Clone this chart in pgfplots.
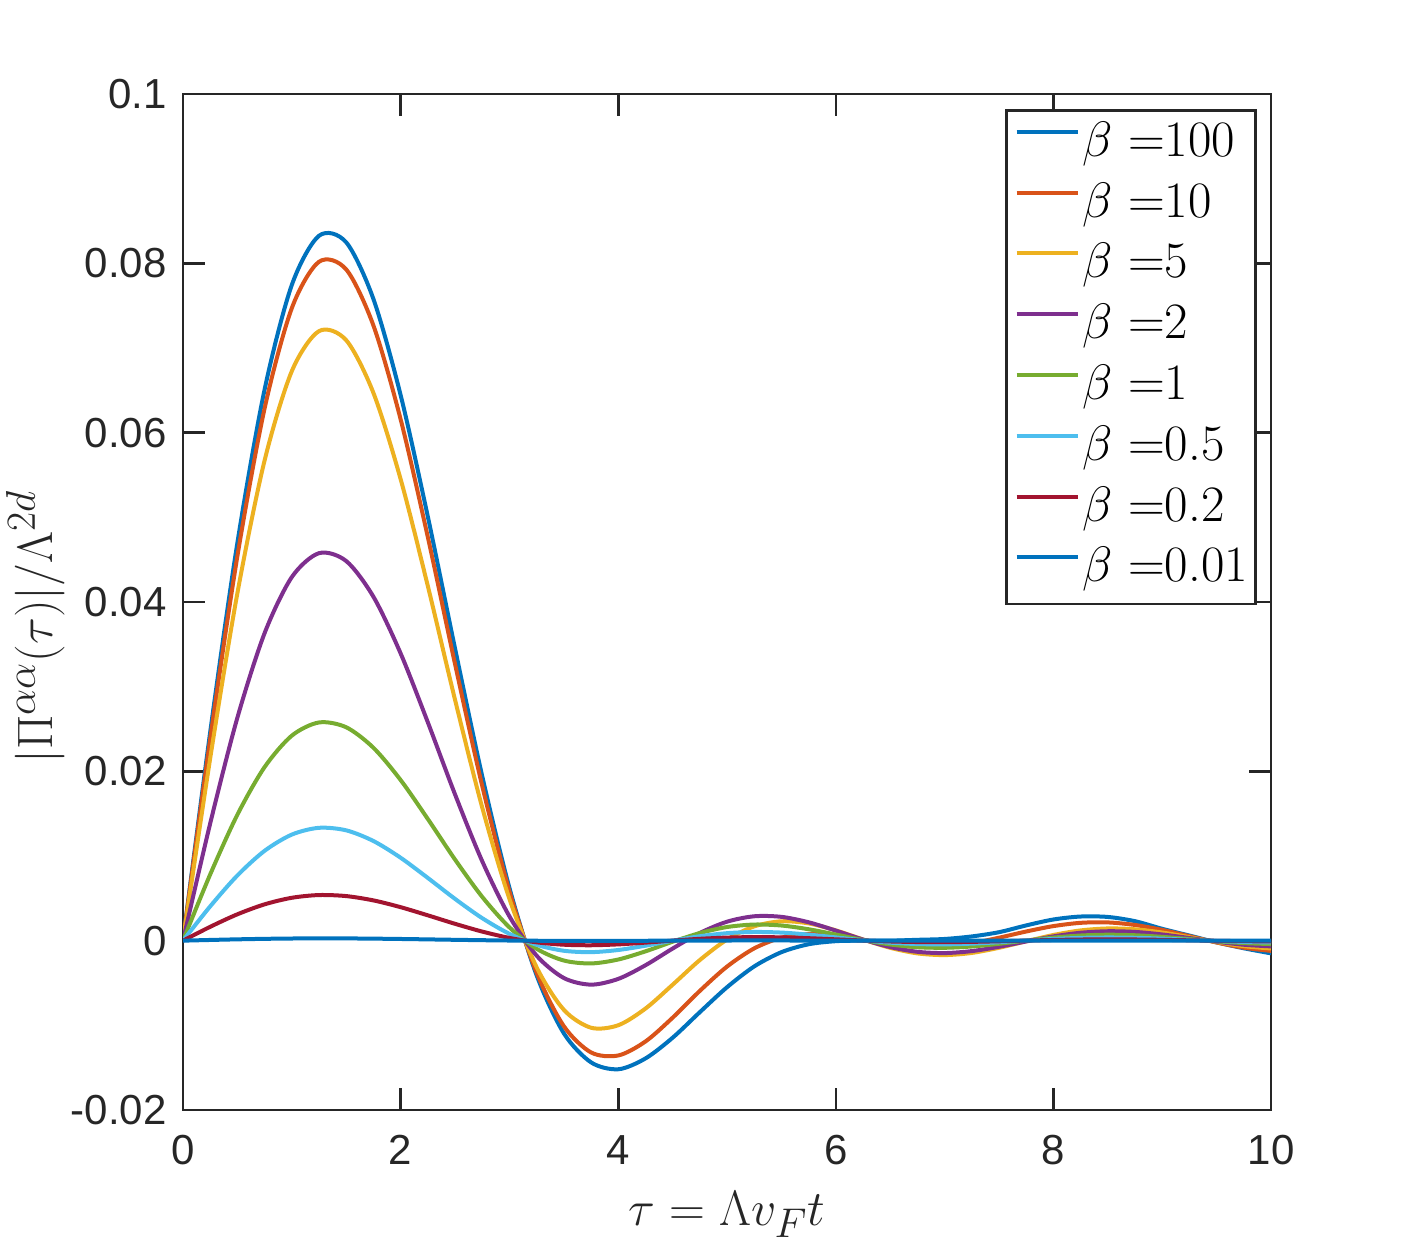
\documentclass[border=0pt]{standalone}
\usepackage{fontspec}
\usepackage{pgfplots}
\pgfplotsset{compat=1.18}
\usepackage{pgfplotstable}
\usetikzlibrary{calc}
\newfontfamily\arialfont{Liberation Sans}
\definecolor{c1}{rgb}{0,0.447,0.741}
\definecolor{c2}{rgb}{0.85,0.325,0.098}
\definecolor{c3}{rgb}{0.929,0.694,0.125}
\definecolor{c4}{rgb}{0.494,0.184,0.556}
\definecolor{c5}{rgb}{0.466,0.674,0.188}
\definecolor{c6}{rgb}{0.301,0.745,0.933}
\definecolor{c7}{rgb}{0.635,0.078,0.184}
\definecolor{axc}{rgb}{0.15,0.15,0.15}

\pgfplotstableread{
t     b100      b10       b5        b2        b1        b05        b02        b001
0     0         0         0         0         0         0          0          0
0.25  0.024637  0.023823  0.021544  0.013846  0.007823  0.004051   0.001637   0.000082
0.5   0.046999  0.045425  0.041045  0.026341  0.014880  0.007703   0.003114   0.000156
0.75  0.065093  0.062864  0.056719  0.036322  0.020503  0.010612   0.004290   0.000215
1     0.077442  0.074703  0.067261  0.042938  0.024212  0.012528   0.005064   0.000254
1.25  0.083251  0.080183  0.071990  0.045765  0.025771  0.013329   0.005387   0.000270
1.5   0.082477  0.079276  0.070916  0.044837  0.025203  0.013029   0.005264   0.000264
1.75  0.075790  0.072661  0.064698  0.040624  0.022783  0.011770   0.004755   0.000238
2     0.064450  0.061588  0.054519  0.033936  0.018977  0.009795   0.003956   0.000198
2.25  0.050098  0.047678  0.041897  0.025795  0.014372  0.007410   0.002992   0.000150
2.5   0.034529  0.032691  0.028464  0.017283  0.009585  0.004935   0.001991   0.000100
2.75  0.019442  0.018287  0.015737  0.009387  0.005174  0.002659   0.001072   0.000054
3     0.006247  0.005826  0.004939  0.002878  0.001573  0.000807   0.000325   0.000016
3.25 -0.004089 -0.003772 -0.003135 -0.001770 -0.000957 -0.000489  -0.000197  -0.000010
3.5  -0.010935 -0.010091 -0.008163 -0.004409 -0.002345 -0.001192  -0.000479  -0.000024
3.75 -0.014370 -0.013198 -0.010282 -0.005194 -0.002690 -0.001356  -0.000543  -0.000027
4    -0.015190 -0.013561 -0.009991 -0.004517 -0.002227 -0.001104  -0.000440  -0.000022
4.25 -0.013915 -0.011913 -0.008026 -0.002909 -0.001264 -0.000598  -0.000234  -0.000012
4.5  -0.011467 -0.009102 -0.005207 -0.000934 -0.000128 -0.0000065  0.0000048  0.0000003
4.75 -0.008448 -0.005934 -0.002292  0.000904  0.000897  0.000522   0.000218   0.000011
5    -0.005501 -0.003063  0.000124  0.002239  0.001608  0.000883   0.000363   0.000018
5.25 -0.003044 -0.000912  0.001686  0.002880  0.001904  0.001026   0.000420   0.000021
5.5  -0.001360  0.000349  0.002287  0.002812  0.001788  0.000954   0.000389   0.000020
5.75 -0.000427  0.000774  0.002040  0.002172  0.001348  0.000715   0.000291   0.000015
6    -0.000062  0.000582  0.001213  0.001190  0.000726  0.000384   0.000156   0.000008
6.25  0         0.000074  0.000142  0.000132  0.000080  0.000042   0.000017   0.000001
6.5   0        -0.000446 -0.000845 -0.000759 -0.000451 -0.000236  -0.000096  -0.000005
6.75  0.0001   -0.000745 -0.001503 -0.001316 -0.000771 -0.000402  -0.000163  -0.000008
7     0.0002   -0.000698 -0.001704 -0.001465 -0.000843 -0.000437  -0.000177  -0.000009
7.25  0.0005   -0.000301 -0.001448 -0.001232 -0.000688 -0.000353  -0.000142  -0.000007
7.5   0.0010    0.000348 -0.000844 -0.000724 -0.000373 -0.000186  -0.000074  -0.000004
7.75  0.0018    0.001082 -0.000073 -0.000092  0.000008  0.000016   0.000008   0.0000004
8     0.0025    0.001719  0.000669  0.000504  0.000361  0.000200   0.000083   0.000004
8.25  0.00285   0.002106  0.001209  0.000932  0.000607  0.000328   0.000134   0.000007
8.5   0.0028    0.002154  0.001442  0.001112  0.000702  0.000375   0.000153   0.000008
8.75  0.0023    0.001853  0.001342  0.001030  0.000639  0.000340   0.000139   0.000007
9     0.0014    0.001270  0.000961  0.000733  0.000450  0.000238   0.000097   0.000005
9.25  0.0006    0.000530  0.000411  0.000311  0.000189  0.000100   0.000041   0.000002
9.5  -0.0002   -0.000217 -0.000170 -0.000127 -0.000077 -0.000040  -0.000016  -0.000001
9.75 -0.0009   -0.000831 -0.000648 -0.000481 -0.000287 -0.000151  -0.000061  -0.000003
10   -0.0015   -0.001210 -0.000926 -0.000677 -0.000401 -0.000210  -0.000085  -0.000004
}\data

\begin{document}
\begin{tikzpicture}
\begin{axis}[
  name=ax,
  scale only axis,
  width=544pt, height=508pt,
  xmin=0, xmax=10, ymin=-0.02, ymax=0.1,
  xtick={0,2,4,6,8,10},
  xticklabels={0,2,4,6,8,10},
  ytick={-0.02,0,0.02,0.04,0.06,0.08,0.1},
  yticklabels={-0.02,0,0.02,0.04,0.06,0.08,0.1},
  scaled y ticks=false,
  /pgf/number format/assume math mode=true,
  tick align=inside,
  major tick length=11pt,
  axis line style={line width=1.3pt, draw=axc},
  tick style={line width=1.3pt, draw=axc},
  ticklabel style={font=\arialfont\fontsize{21}{21}\selectfont, text=axc, inner sep=0pt},
  yticklabel style={anchor=east, xshift=-8pt},
  xticklabel style={anchor=north, yshift=-12.5pt},
  legend style={at={(1,1)}, anchor=north east, xshift=-7pt, yshift=-7.5pt,
    draw=axc, line width=1.3pt, inner xsep=3.9pt, inner ysep=1.8pt,
    font=\fontsize{25.5}{25.5}\selectfont, row sep=0pt,
    nodes={inner sep=0pt, text height=21.2pt, text depth=9.2pt},
    /tikz/every odd column/.append style={column sep=1.5pt}},
  legend cell align=left,
  legend image code/.code={\draw[#1, line width=2pt] (0pt,6.2pt) -- (30.5pt,6.2pt);},
  every axis plot/.append style={line width=2pt, smooth},
]
\addplot[c1] table[x=t, y=b100] {\data}; \addlegendentry{$\beta$ =100}
\addplot[c2] table[x=t, y=b10] {\data}; \addlegendentry{$\beta$ =10}
\addplot[c3] table[x=t, y=b5] {\data}; \addlegendentry{$\beta$ =5}
\addplot[c4] table[x=t, y=b2] {\data}; \addlegendentry{$\beta$ =2}
\addplot[c5] table[x=t, y=b1] {\data}; \addlegendentry{$\beta$ =1}
\addplot[c6] table[x=t, y=b05] {\data}; \addlegendentry{$\beta$ =0.5}
\addplot[c7] table[x=t, y=b02] {\data}; \addlegendentry{$\beta$ =0.2}
\addplot[c1] table[x=t, y=b001] {\data}; \addlegendentry{$\beta$ =0.01}
\end{axis}
\node[anchor=base, font=\fontsize{29}{29}\selectfont, text=axc] at ($(ax.south west)!0.5!(ax.south east)+(0,-58pt)$) {$\tau=\Lambda v_F t$};
\node[anchor=base, rotate=90, font=\fontsize{28.5}{28.5}\selectfont, text=axc] at ($(ax.south west)+(-65pt,241.5pt)$) {$|\Pi^{\alpha\alpha}(\tau)|/\Lambda^{2d}$};
\pgfresetboundingbox
\useasboundingbox ($(ax.south west)+(-91.5pt,-70pt)$) rectangle ($(ax.north east)+(67.5pt,47pt)$);
\end{tikzpicture}
\end{document}
